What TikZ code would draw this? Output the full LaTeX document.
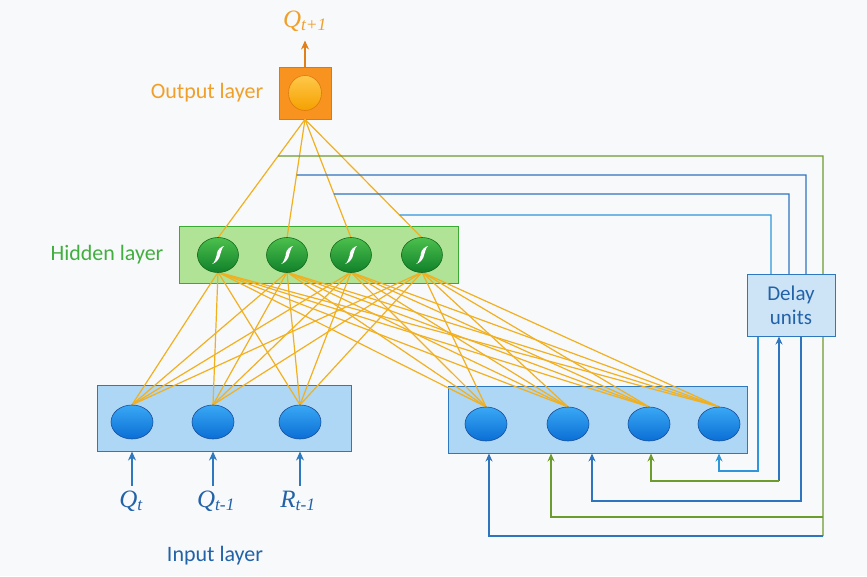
\documentclass[tikz,border=0pt]{standalone}
\usepackage{fontspec}
\setmainfont{Carlito}
\newfontfamily\lblserif{Liberation Serif}
\usetikzlibrary{arrows.meta,shapes.geometric,calc}

\definecolor{bgcol}{HTML}{F8F9FB}
\definecolor{orfill}{HTML}{F7931E}
\definecolor{ordraw}{HTML}{DC7A10}
\definecolor{ortext}{HTML}{F0A02A}
\definecolor{orarrow}{HTML}{E0801A}
\definecolor{grfill}{HTML}{B0E396}
\definecolor{grdraw}{HTML}{3AAA35}
\definecolor{grtext}{HTML}{43AE40}
\definecolor{grtop}{HTML}{4CC04C}
\definecolor{grbot}{HTML}{10802A}
\definecolor{grnode}{HTML}{136A1E}
\definecolor{blfill}{HTML}{AED6F5}
\definecolor{bldraw}{HTML}{2E78C0}
\definecolor{bltop}{HTML}{3AA8F5}
\definecolor{blbot}{HTML}{0A6ED5}
\definecolor{blnode}{HTML}{1B4F9A}
\definecolor{bltext}{HTML}{2262A8}
\definecolor{dlfill}{HTML}{CDE4F6}
\definecolor{linkcol}{HTML}{F0B020}
\definecolor{fbgreen}{HTML}{6E9B2E}
\definecolor{fbblue}{HTML}{2F74BE}
\definecolor{fblight}{HTML}{2F96DA}
\definecolor{ortop}{HTML}{FFC84A}
\definecolor{orbot}{HTML}{F5A000}

\begin{document}
\begin{tikzpicture}[x=1pt,y=-1pt,
  lbl/.style={font=\fontsize{22}{25}\selectfont},
  mlbl/.style={font=\lblserif\itshape\fontsize{25}{27}\selectfont, text=bltext, inner sep=1pt},
  hidbox/.style={draw=grdraw, fill=grfill, line width=1pt},
  inbox/.style={draw=bldraw, fill=blfill, line width=1pt},
  innode/.style={ellipse, draw=blnode, line width=0.6pt, top color=bltop, bottom color=blbot,
    minimum width=42pt, minimum height=34pt, inner sep=0pt},
  hidnode/.style={ellipse, draw=grnode, line width=0.6pt, top color=grtop, bottom color=grbot,
    minimum width=41pt, minimum height=35pt, inner sep=0pt,
    path picture={\fill[white]
      ([xshift=-6pt,yshift=-9pt]path picture bounding box.center)
      .. controls +(3pt,0.5pt) and +(-1pt,-3pt) ..
      ([xshift=1.5pt,yshift=-2pt]path picture bounding box.center)
      .. controls +(1pt,3pt) and +(-2pt,-1pt) ..
      ([xshift=6pt,yshift=9pt]path picture bounding box.center)
      .. controls +(-2pt,0pt) and +(0pt,3pt) ..
      ([xshift=-1pt,yshift=2pt]path picture bounding box.center)
      .. controls +(0pt,-3pt) and +(2pt,0pt) .. cycle;}},
  anchornode/.style={ellipse, minimum width=41pt, minimum height=34pt, inner sep=0pt},
  link/.style={draw=linkcol, line width=1.2pt},
  fb/.style={line width=1.2pt},
  fbtip/.style={-{Stealth[length=8pt,width=7pt]}},
  intip/.style={-{Stealth[length=9pt,width=8pt]}}
]
\fill[bgcol] (0,0) rectangle (867,576);
\useasboundingbox (0,0) rectangle (867,576);

% layer frames
\node[hidbox, minimum width=279pt, minimum height=57pt, inner sep=0pt] (hbox) at (318.5,254.5) {};
\node[inbox, minimum width=254pt, minimum height=66pt, inner sep=0pt] (ibox1) at (224,418) {};
\node[inbox, minimum width=299pt, minimum height=67pt, inner sep=0pt] (ibox2) at (597.5,419.5) {};
\node[draw=ordraw, fill=orfill, line width=0.8pt, minimum width=52pt, minimum height=52pt, inner sep=0pt] (obox) at (305,93) {};

% neuron positions (shapes are painted after the links)
\foreach \n/\x in {1/218,2/287,3/351,4/422}
  \path (\x,255) node[anchornode] (h\n) {};
\foreach \n/\x in {1/132,2/213,3/300}
  \path (\x,422) node[anchornode] (i\n) {};
\foreach \n/\x in {4/486,5/568,6/649,7/719}
  \path (\x,424) node[anchornode] (i\n) {};

% output to hidden links
\foreach \n in {1,...,4}
  \draw[link] (obox.south) -- (h\n.north);

% hidden to input links
\foreach \n in {1,...,4}
  \foreach \m in {1,...,7}
    \draw[link] (h\n.south) -- (i\m.north);

% neurons
\foreach \n in {1,...,4}
  \node[hidnode] at (h\n) {};
\foreach \m in {1,...,7}
  \node[innode] at (i\m) {};
\node[ellipse, draw=ordraw, line width=0.6pt, top color=ortop, bottom color=orbot,
  minimum width=33pt, minimum height=35pt, inner sep=0pt] (onode) at (obox.center) {};

% output label and arrow
\node[font=\lblserif\itshape\fontsize{25}{27}\selectfont, text=ortext, inner sep=1pt] (qout) at (305,21) {Q\textsubscript{t+1}};
\draw[orarrow, line width=1.3pt, intip, shorten >=8pt] (obox.north) -- (qout.south);

% layer captions
\node[lbl, text=ortext] (olab) at (207,93) {Output layer};
\node[lbl, text=grtext] (hlab) at (107,255) {Hidden layer};
\node[lbl, text=bltext] (ilab) at (215,556) {Input layer};

% external inputs
\node[mlbl] (lq1) at (131,501) {Q\textsubscript{t}};
\node[mlbl] (lq2) at (216,501) {Q\textsubscript{t-1}};
\node[mlbl] (lr1) at (298,501) {R\textsubscript{t-1}};
\foreach \m in {1,2,3}
  \draw[bldraw, line width=1.3pt, intip] (i\m |- 0,486) -- (i\m |- ibox1.south);

% recurrent connections: taps on the output links
\coordinate (tg) at (intersection cs: first line={(obox.south)--(h1.north)}, second line={(0,156)--(10,156)});
\coordinate (tb1) at (intersection cs: first line={(obox.south)--(h2.north)}, second line={(0,175)--(10,175)});
\coordinate (tb2) at (intersection cs: first line={(obox.south)--(h3.north)}, second line={(0,194)--(10,194)});
\coordinate (tb3) at (intersection cs: first line={(obox.south)--(h4.north)}, second line={(0,215)--(10,215)});

\draw[fb, fbgreen] (tg) -- (823,156) -- (823,536);
\draw[fb, fbblue] (tb1) -- (806,175) -- (806,280);
\draw[fb, fbblue] (tb2) -- (789,194) -- (789,280);
\draw[fb, fblight] (tb3) -- (771,215) -- (771,280);

% delay block
\node[draw=bldraw, fill=dlfill, line width=1pt, minimum width=88pt, minimum height=62pt, inner sep=0pt,
  align=center, text=bltext, font=\fontsize{21}{24}\selectfont] (delay) at (791,305) {Delay\\units};

% delayed signals back to the context units
\draw[fb, fblight, fbtip] (delay.south -| 758,0) -- (758,471) -- (719,471) -- (i7 |- ibox2.south);
\draw[fb, fbblue, fbtip] (779,481) -- (delay.south -| 779,0);
\draw[fb, fbgreen, fbtip] (779,481) -- (651,481) -- (651,0 |- ibox2.south);
\draw[fb, fbblue, fbtip] (delay.south -| 801,0) -- (801,501) -- (592,501) -- (592,0 |- ibox2.south);
\draw[fb, fbgreen, fbtip] (823,517) -- (551,517) -- (551,0 |- ibox2.south);
\draw[fb, fbblue, fbtip] (823,536) -- (489,536) -- (489,0 |- ibox2.south);
\end{tikzpicture}
\end{document}
